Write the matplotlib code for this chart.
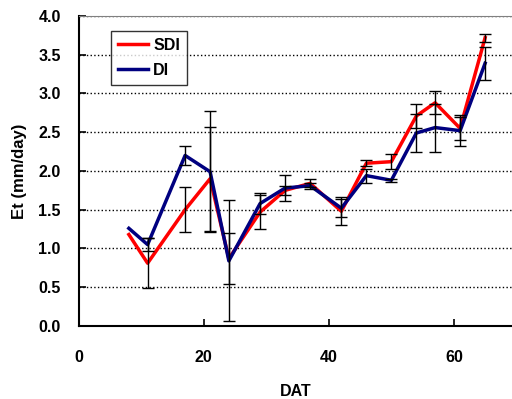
import matplotlib
matplotlib.use('Agg')
import matplotlib.pyplot as plt
import numpy as np

dat = [8, 11, 17, 21, 24, 29, 33, 37, 42, 46, 50, 54, 57, 61, 65]
sdi = [1.18, 0.81, 1.50, 1.90, 0.87, 1.47, 1.75, 1.84, 1.48, 2.10, 2.12, 2.71, 2.88, 2.55, 3.72]
sdi_err = [np.nan, 0.32, 0.29, 0.67, 0.33, 0.22, 0.06, 0.05, 0.18, 0.04, 0.10, 0.15, 0.15, 0.15, 0.05]
di = [1.26, 1.05, 2.20, 1.99, 0.84, 1.58, 1.78, 1.81, 1.52, 1.94, 1.88, 2.49, 2.56, 2.52, 3.39]
di_err = [np.nan, 0.08, 0.12, 0.78, 0.78, 0.13, 0.17, 0.04, 0.12, 0.09, 0.02, 0.24, 0.31, 0.20, 0.21]

plt.rcParams['font.family'] = ['Liberation Sans', 'DejaVu Sans']
plt.rcParams['font.weight'] = 'bold'

fig = plt.figure(figsize=(5.12, 3.99), dpi=100)
ax = fig.add_axes([0.154, 0.183, 0.846, 0.777])

ax.plot(dat, sdi, color='#ff0000', lw=2.5, label='SDI', zorder=3)
ax.plot(dat, di, color='#000080', lw=2.5, label='DI', zorder=3)
ax.errorbar(dat, sdi, yerr=sdi_err, fmt='none', ecolor='black', elinewidth=1, capsize=4, capthick=1, zorder=4)
ax.errorbar(dat, di, yerr=di_err, fmt='none', ecolor='black', elinewidth=1, capsize=4, capthick=1, zorder=4)

ax.set_xlim(0, 69.3)
ax.set_ylim(0, 4.0)
ax.set_xticks([0, 20, 40, 60])
ax.set_yticks([0.0, 0.5, 1.0, 1.5, 2.0, 2.5, 3.0, 3.5, 4.0])
ax.set_yticklabels(['0.0', '0.5', '1.0', '1.5', '2.0', '2.5', '3.0', '3.5', '4.0'])
ax.yaxis.grid(True, linestyle=':', color='black', lw=1)
ax.tick_params(axis='x', direction='in', length=5, width=1.2, pad=17, labelsize=11.5)
ax.tick_params(axis='y', direction='in', length=5, width=1.2, pad=13, labelsize=11.5)
for lbl in ax.get_xticklabels() + ax.get_yticklabels():
    lbl.set_fontweight('bold')

ax.spines['right'].set_visible(False)
ax.spines['top'].set_color('#808080')
ax.spines['left'].set_linewidth(1.5)
ax.spines['bottom'].set_linewidth(1.5)

ax.set_xlabel('DAT', fontsize=11.5, fontweight='bold', labelpad=14)
ax.set_ylabel('Et (mm/day)', fontsize=12, fontweight='bold', labelpad=8)

leg = ax.legend(loc='upper left', bbox_to_anchor=(0.074, 0.952), frameon=True, fancybox=False,
                edgecolor='black', fontsize=11.5, handlelength=1.85, handletextpad=0.35,
                borderpad=0.45, labelspacing=0.6, borderaxespad=0)
leg.get_frame().set_linewidth(1)
for t in leg.get_texts():
    t.set_fontweight('bold')

fig.savefig('out.png', dpi=100)
